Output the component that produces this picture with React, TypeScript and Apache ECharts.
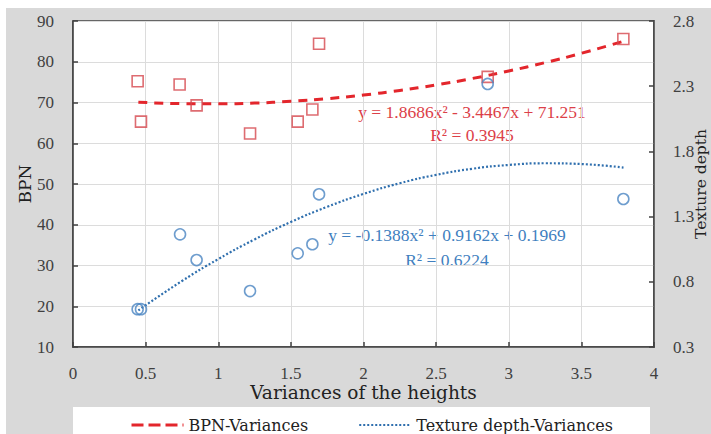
import React, { useEffect, useRef } from "react";
import * as echarts from "echarts";

// Measured points (x = variance of the heights)
const variances = [0.445, 0.468, 0.734, 0.851, 1.219, 1.547, 1.648, 1.694, 2.855, 3.789];
const bpnValues = [75.2, 65.3, 74.4, 69.3, 62.4, 65.3, 68.3, 84.4, 76.3, 85.6];
const textureVariances = [0.445, 0.468, 0.737, 0.851, 1.219, 1.547, 1.648, 1.694, 2.855, 3.789];
const textureValues = [0.59, 0.59, 1.164, 0.967, 0.729, 1.018, 1.088, 1.471, 2.317, 1.435];

// Trend lines
const trendX = [0.45, 0.75, 1.0, 1.25, 1.5, 1.75, 2.0, 2.25, 2.5, 2.75, 3.0, 3.25, 3.5, 3.79];
const bpnTrend = [70.08, 69.72, 69.67, 69.86, 70.29, 70.94, 71.83, 72.96, 74.31, 75.9, 77.73, 79.79, 82.08, 85.03];
const textureTrend = [0.581, 0.806, 0.974, 1.125, 1.259, 1.375, 1.474, 1.556, 1.62, 1.667, 1.696, 1.709, 1.703, 1.676];

const bpnEquation = "y = 1.8686x\u00b2 - 3.4467x + 71.251";
const bpnR2 = "R\u00b2 = 0.3945";
const textureEquation = "y = -0.1388x\u00b2 + 0.9162x + 0.1969";
const textureR2 = "R\u00b2 = 0.6224";

const seriesNames = ["BPN-Variances", "Texture depth-Variances"];

const NUM_FONT = "Liberation Serif, serif";
const TXT_FONT = "DejaVu Serif, serif";
const RED = "#e3262c";
const RED_MARK = "#d6474e";
const RED_TEXT = "#dc4048";
const BLUE = "#2f6fae";
const BLUE_MARK = "#4a84c2";
const BLUE_TEXT = "#3f7fc0";
const AXIS = "#404040";

export default function App() {
  const ref = useRef<HTMLDivElement>(null);
  useEffect(() => {
    if (!ref.current) return;
    const chart = echarts.init(ref.current, null, { renderer: "svg" });
    const zip = (xs: number[], ys: number[]) => xs.map((x, i) => [x, ys[i]]);
    const eqStyle = (text: string, fill: string) => ({
      text,
      fill,
      fontFamily: NUM_FONT,
      fontSize: 17.5,
      textAlign: "center",
      textVerticalAlign: "middle",
    });
    chart.setOption({
      animation: false,
      backgroundColor: "transparent",
      grid: {
        left: 73,
        top: 21,
        right: 57,
        bottom: 87,
        outerBoundsMode: "none",
        containLabel: false,
        show: true,
        backgroundColor: "#ffffff",
        borderColor: AXIS,
        borderWidth: 1.5,
      },
      legend: {
        data: [
          { name: seriesNames[0], lineStyle: { type: [12, 5], width: 3 } },
          { name: seriesNames[1], lineStyle: { type: [2, 2], width: 2.2 } },
        ],
        left: 125,
        top: 412,
        itemWidth: 52,
        itemHeight: 12,
        itemGap: 50,
        itemStyle: { opacity: 0 },
        textStyle: { fontFamily: TXT_FONT, fontSize: 16, color: "#222" },
      },
      xAxis: {
        type: "value",
        min: 0,
        max: 4,
        interval: 0.5,
        name: "Variances of the heights",
        nameLocation: "middle",
        nameGap: 36,
        nameMoveOverlap: false,
        nameTextStyle: { fontFamily: TXT_FONT, fontSize: 18.5, color: "#222" },
        axisLine: { show: true, lineStyle: { color: AXIS, width: 1.5 } },
        axisTick: { show: true, inside: true, length: 5, lineStyle: { color: AXIS, width: 1.5 } },
        axisLabel: { margin: 18, fontFamily: NUM_FONT, fontSize: 17, color: AXIS },
        splitLine: { show: true, lineStyle: { color: "#dcdcdc", width: 1 } },
      },
      yAxis: [
        {
          type: "value",
          min: 10,
          max: 90,
          interval: 10,
          position: "left",
          name: "BPN",
          nameLocation: "middle",
          nameGap: 40,
          nameMoveOverlap: false,
          nameRotate: 90,
          nameTextStyle: { fontFamily: TXT_FONT, fontSize: 17, color: "#222" },
          axisLine: { show: true, lineStyle: { color: AXIS, width: 1.5 } },
          axisTick: { show: true, inside: true, length: 5, lineStyle: { color: AXIS, width: 1.5 } },
          axisLabel: { margin: 19, fontFamily: NUM_FONT, fontSize: 17, color: AXIS },
          splitLine: { show: true, lineStyle: { color: "#dcdcdc", width: 1 } },
        },
        {
          type: "value",
          min: 0.3,
          max: 2.8,
          interval: 0.5,
          position: "right",
          name: "Texture depth",
          nameLocation: "middle",
          nameGap: 39,
          nameMoveOverlap: false,
          nameRotate: 90,
          nameTextStyle: { fontFamily: TXT_FONT, fontSize: 15.5, color: "#222" },
          axisLine: { show: true, lineStyle: { color: AXIS, width: 1.5 } },
          axisTick: { show: true, inside: true, length: 5, lineStyle: { color: AXIS, width: 1.5 } },
          axisLabel: { margin: 19, fontFamily: NUM_FONT, fontSize: 17, color: AXIS },
          splitLine: { show: false },
        },
      ],
      graphic: [
        { type: "text", x: 472, y: 112, style: eqStyle(bpnEquation, RED_TEXT) },
        { type: "text", x: 472, y: 135, style: eqStyle(bpnR2, RED_TEXT) },
        { type: "text", x: 447, y: 235, style: eqStyle(textureEquation, BLUE_TEXT) },
        { type: "text", x: 447, y: 260, style: eqStyle(textureR2, BLUE_TEXT) },
      ],
      series: [
        {
          name: "BPN",
          type: "scatter",
          yAxisIndex: 0,
          symbol: "rect",
          symbolSize: 11,
          data: zip(variances, bpnValues),
          itemStyle: { color: "rgba(255,255,255,0)", borderColor: RED_MARK, borderWidth: 1.6 },
          z: 3,
        },
        {
          name: "Texture depth",
          type: "scatter",
          yAxisIndex: 1,
          symbol: "circle",
          symbolSize: 11,
          data: zip(textureVariances, textureValues),
          itemStyle: { color: "rgba(255,255,255,0)", borderColor: BLUE_MARK, borderWidth: 1.6 },
          z: 3,
        },
        {
          name: seriesNames[0],
          type: "line",
          yAxisIndex: 0,
          smooth: true,
          showSymbol: false,
          symbol: "none",
          data: zip(trendX, bpnTrend),
          lineStyle: { color: RED, width: 3, type: [9, 7] },
          itemStyle: { color: RED },
          z: 2,
        },
        {
          name: seriesNames[1],
          type: "line",
          yAxisIndex: 1,
          smooth: true,
          showSymbol: false,
          symbol: "none",
          data: zip(trendX, textureTrend),
          lineStyle: { color: BLUE, width: 2.2, type: [2, 2] },
          itemStyle: { color: BLUE },
          z: 2,
        },
      ],
    });
    return () => chart.dispose();
  }, []);

  return (
    <div style={{ position: "fixed", left: 0, top: 0, width: 711, height: 434, background: "#ffffff", overflow: "hidden" }}>
      <div style={{ position: "absolute", left: 6, top: 8, width: 705, height: 426, background: "#d9d9d9" }} />
      <div style={{ position: "absolute", left: 73, top: 407, width: 577, height: 27, background: "#ffffff" }} />
      <div ref={ref} style={{ position: "absolute", left: 0, top: 0, width: 711, height: 434 }} />
    </div>
  );
}
